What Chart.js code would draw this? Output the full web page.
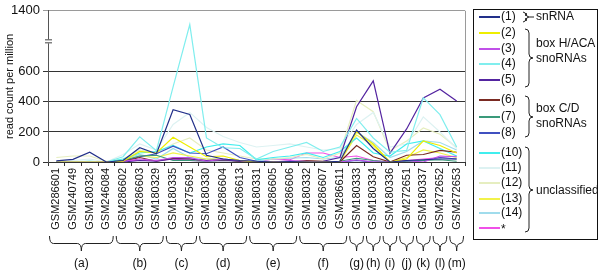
<!DOCTYPE html>
<html>
<head>
<meta charset="utf-8">
<script src="https://cdn.jsdelivr.net/npm/chart.js@4"></script>
<style>
  html, body { margin: 0; padding: 0; background: #fff; }
  #wrap { width: 600px; height: 271px; position: relative; }
</style>
</head>
<body>
<div id="wrap"><canvas id="myChart"></canvas></div>
<script>
// samples (x axis)
var samples = ['GSM286601', 'GSM240749', 'GSM180328', 'GSM246084', 'GSM286602', 'GSM286603', 'GSM180329',
    'GSM180335', 'GSM275691', 'GSM180330', 'GSM286604', 'GSM286613', 'GSM180331', 'GSM286605', 'GSM286606',
    'GSM180332', 'GSM286607', 'GSM286611', 'GSM180333', 'GSM180334', 'GSM180336', 'GSM272651', 'GSM180337',
    'GSM272652', 'GSM272653'];

// sample groups: first index, last index, label
var groupStart = [0, 4, 7, 9, 12, 15, 18, 19, 20, 21, 22, 23, 24];
var groupEnd   = [3, 6, 8, 11, 14, 17, 18, 19, 20, 21, 22, 23, 24];
var groupLabels = ['(a)', '(b)', '(c)', '(d)', '(e)', '(f)', '(g)', '(h)', '(i)', '(j)', '(k)', '(l)', '(m)'];

// read count per million, per RNA
var rna1  = [8, 18, 65, 0, 10, 95, 55, 348, 316, 45, 20, 10, 5, 0, 2, 0, 0, 5, 213, 90, 0, 10, 15, 20, 20];
var rna2  = [0, 0, 0, 0, 5, 70, 60, 165, 100, 35, 40, 10, 0, 0, 0, 0, 0, 5, 200, 120, 0, 20, 140, 110, 60];
var rna3  = [0, 0, 0, 0, 5, 20, 10, 30, 30, 5, 20, 10, 0, 0, 10, 5, 0, 0, 15, 0, 0, 10, 0, 40, 35];
var rna4  = [3, 3, 5, 0, 35, 168, 75, 500, 1220, 160, 95, 90, 20, 70, 100, 130, 70, 100, 290, 160, 65, 77, 427, 315, 100];
var rna5  = [0, 0, 0, 0, 0, 10, 5, 20, 20, 10, 15, 5, 0, 0, 0, 0, 5, 30, 368, 540, 58, 220, 427, 484, 406];
var rna6  = [0, 0, 0, 0, 5, 30, 5, 25, 20, 10, 15, 5, 0, 0, 0, 10, 5, 0, 110, 35, 0, 45, 50, 77, 65];
var rna7  = [0, 0, 0, 0, 10, 40, 45, 10, 10, 5, 10, 5, 0, 0, 0, 0, 0, 5, 25, 10, 0, 5, 10, 15, 5];
var rna8  = [0, 0, 0, 0, 5, 35, 55, 105, 60, 55, 100, 30, 5, 0, 0, 0, 0, 0, 10, 0, 0, 5, 10, 30, 20];
var rna10 = [0, 0, 5, 0, 20, 60, 70, 110, 60, 100, 120, 110, 15, 30, 40, 60, 30, 70, 160, 60, 40, 120, 140, 90, 40];
var rna11 = [0, 10, 20, 0, 50, 120, 80, 250, 330, 230, 170, 130, 100, 110, 120, 100, 80, 90, 250, 330, 100, 120, 300, 200, 90];
var rna12 = [30, 40, 40, 5, 20, 80, 60, 120, 160, 80, 60, 40, 20, 20, 30, 50, 20, 60, 410, 335, 75, 140, 226, 185, 97];
var rna13 = [0, 0, 0, 0, 10, 40, 30, 60, 40, 20, 20, 5, 0, 0, 0, 0, 0, 0, 180, 110, 0, 30, 80, 60, 30];
var rna14 = [0, 0, 0, 0, 15, 50, 20, 90, 30, 20, 20, 10, 5, 20, 25, 30, 20, 30, 200, 130, 30, 70, 140, 130, 80];
var rnaStar = [0, 0, 0, 0, 10, 10, 10, 20, 10, 5, 10, 5, 0, 20, 15, 60, 60, 30, 40, 10, 0, 10, 20, 30, 40];

var seriesNames = ['(1)', '(2)', '(3)', '(4)', '(5)', '(6)', '(7)', '(8)', '(10)', '(11)', '(12)', '(13)', '(14)', '*'];
var seriesData = [rna1, rna2, rna3, rna4, rna5, rna6, rna7, rna8, rna10, rna11, rna12, rna13, rna14, rnaStar];
var seriesColors = ['#22308a', '#eeee00', '#c050e8', '#80eeee', '#5424a0', '#7a2a22', '#3a9a7a', '#4050c0',
    '#40eeee', '#ddf2f2', '#e6eec0', '#f2f24a', '#a0dcec', '#f050e8'];

// y axis tick labels
var yTicks = [0, 200, 400, 600, 1400];

// broken axis: above 600 the scale is squeezed
var BREAK = 600;
var SQUEEZE = 0.508;
function disp(v) { return v <= BREAK ? v : BREAK + (v - BREAK) * SQUEEZE; }
var YMAX = disp(1400);

var FONT = 'Liberation Sans, Arial, sans-serif';

var datasets = seriesData.map(function (d, i) {
    return {
        label: seriesNames[i],
        data: d.map(disp),
        borderColor: seriesColors[i],
        backgroundColor: seriesColors[i],
        borderWidth: 1.2,
        pointRadius: 0,
        tension: 0,
        fill: false
    };
});

function vBrace(ctx, x, y0, y1, ym, w) {
    var r = 4;
    var xm = x + w / 2;
    ctx.beginPath();
    ctx.moveTo(x, y0);
    ctx.quadraticCurveTo(xm, y0, xm, y0 + r);
    ctx.lineTo(xm, ym - r);
    ctx.quadraticCurveTo(xm, ym, x + w, ym);
    ctx.quadraticCurveTo(xm, ym, xm, ym + r);
    ctx.lineTo(xm, y1 - r);
    ctx.quadraticCurveTo(xm, y1, x, y1);
    ctx.stroke();
}

function hBrace(ctx, x0, x1, y, h) {
    var r = Math.min(4, (x1 - x0) / 4);
    var xm = (x0 + x1) / 2;
    var yb = y + h / 2;
    ctx.beginPath();
    ctx.moveTo(x0, y);
    ctx.quadraticCurveTo(x0, yb, x0 + r, yb);
    ctx.lineTo(xm - r, yb);
    ctx.quadraticCurveTo(xm, yb, xm, y + h);
    ctx.quadraticCurveTo(xm, yb, xm + r, yb);
    ctx.lineTo(x1 - r, yb);
    ctx.quadraticCurveTo(x1, yb, x1, y);
    ctx.stroke();
}

var extras = {
    id: 'extras',
    afterDraw: function (chart) {
        var ctx = chart.ctx;
        var area = chart.chartArea;
        var xs = chart.scales.x;
        ctx.save();

        // right border of plot
        ctx.strokeStyle = '#9a9a9a';
        ctx.lineWidth = 1;
        ctx.beginPath();
        ctx.moveTo(area.right + 0.5, area.top);
        ctx.lineTo(area.right + 0.5, area.bottom);
        ctx.stroke();

        // axis break mark
        var yb = (chart.scales.y.getPixelForValue(BREAK) + area.top) / 2;
        ctx.fillStyle = '#fff';
        ctx.fillRect(area.left - 3, yb - 2, 7, 4);
        ctx.strokeStyle = '#444';
        ctx.beginPath();
        ctx.moveTo(area.left - 3, yb - 1.5); ctx.lineTo(area.left + 4, yb - 1.5);
        ctx.moveTo(area.left - 3, yb + 1.5); ctx.lineTo(area.left + 4, yb + 1.5);
        ctx.stroke();

        // group braces under sample names
        var step = xs.getPixelForValue(1) - xs.getPixelForValue(0);
        ctx.strokeStyle = '#222';
        ctx.fillStyle = '#111';
        ctx.font = '12px ' + FONT;
        ctx.textAlign = 'center';
        ctx.textBaseline = 'middle';
        for (var g = 0; g < groupLabels.length; g++) {
            var x0 = xs.getPixelForValue(groupStart[g]) - step / 2 + 1.5;
            var x1 = xs.getPixelForValue(groupEnd[g]) + step / 2 - 1.5;
            hBrace(ctx, x0, x1, 236, 15);
            ctx.fillText(groupLabels[g], (x0 + x1) / 2, 264);
        }

        // legend
        var lx = 473, ly = 9, lw = 124, lh = 230;
        ctx.strokeStyle = '#111';
        ctx.strokeRect(lx + 0.5, ly + 0.5, lw, lh);
        var rowY = [17, 33, 49, 64, 80, 100, 117, 133, 153, 168, 183, 199, 213, 228];
        ctx.textAlign = 'left';
        for (var i = 0; i < seriesNames.length; i++) {
            ctx.strokeStyle = seriesColors[i];
            ctx.lineWidth = 2;
            ctx.beginPath();
            ctx.moveTo(479, rowY[i]);
            ctx.lineTo(500, rowY[i]);
            ctx.stroke();
            ctx.fillText(seriesNames[i], 501, rowY[i] + (seriesNames[i] === '*' ? 2 : 0));
        }
        ctx.strokeStyle = '#222';
        ctx.lineWidth = 1;
        vBrace(ctx, 523, 12, 22, 17, 6);
        ctx.beginPath(); ctx.moveTo(529, 17); ctx.lineTo(534, 17); ctx.stroke();
        ctx.fillText('snRNA', 536, 17);
        vBrace(ctx, 525, 29, 87, 58, 8);
        ctx.fillText('box H/ACA', 536, 44);
        ctx.fillText('snoRNAs', 536, 59);
        vBrace(ctx, 525, 96, 137, 117, 8);
        ctx.fillText('box C/D', 536, 109);
        ctx.fillText('snoRNAs', 536, 124);
        vBrace(ctx, 525, 147, 232, 190, 8);
        ctx.fillText('unclassified', 536, 191);
        ctx.restore();
    }
};

var ctx = document.getElementById('myChart').getContext('2d');
var myChart = new Chart(ctx, {
    type: 'line',
    data: {
        labels: samples,
        datasets: datasets
    },
    options: {
        responsive: true,
        maintainAspectRatio: false,
        animation: false,
        layout: { padding: { left: 3, right: 135, top: 0, bottom: 0 } },
        plugins: {
            legend: { display: false },
            tooltip: { enabled: false }
        },
        scales: {
            x: {
                offset: true,
                afterFit: function (scale) { scale.height = 109; },
                grid: { offset: true, drawOnChartArea: false, tickLength: 4, color: '#333' },
                border: { color: '#333' },
                ticks: {
                    autoSkip: false, maxRotation: 90, minRotation: 90, padding: 2,
                    color: '#111', font: { family: FONT, size: 11 }
                }
            },
            y: {
                min: 0,
                max: YMAX,
                afterFit: function (scale) { scale.width = 45; },
                afterBuildTicks: function (scale) {
                    scale.ticks = yTicks.map(function (v) { return { value: disp(v) }; });
                },
                grid: {
                    tickLength: 5,
                    color: function (c) { return c.tick && c.tick.value >= YMAX - 1 ? '#9a9a9a' : '#333'; }
                },
                border: { color: '#555' },
                title: {
                    display: true, text: 'read count per million', padding: 0,
                    color: '#111', font: { family: FONT, size: 11 }
                },
                ticks: {
                    padding: 3, color: '#111', font: { family: FONT, size: 13 },
                    callback: function (v) { return v >= YMAX - 1 ? '1400' : String(Math.round(v)); }
                }
            }
        }
    },
    plugins: [extras]
});
</script>
</body>
</html>
